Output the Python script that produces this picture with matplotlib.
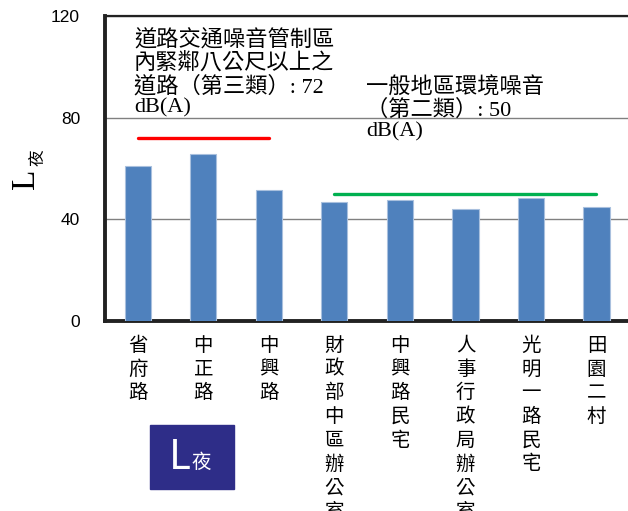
import matplotlib
matplotlib.use('Agg')
import matplotlib.pyplot as plt

plt.rcParams['font.family'] = ['Noto Sans CJK TC', 'DejaVu Sans']

# 測站與夜間噪音值
sites = ['省府路', '中正路', '中興路', '財政部中區辦公室', '中興路民宅',
         '人事行政局辦公室', '光明一路民宅', '田園二村']
l_night = [61.0, 65.6, 51.5, 46.9, 47.6, 44.0, 48.3, 44.8]

# 管制標準
std3_value = 72
std3_range = [0, 2]
std2_value = 50
std2_range = [3, 7]

yticks = [0, 40, 80, 120]

fig = plt.figure(figsize=(6.28, 5.11), dpi=100)
ax = fig.add_axes([105/628, 1 - 321/511, 1 - 105/628 + 0.002, (321 - 16)/511])

x = list(range(len(sites)))
ax.bar(x, l_night, width=0.4, color='#4F81BD', edgecolor='#A9C0DE',
       linewidth=0.8, zorder=3)

ax.plot(std3_range, [std3_value]*2, color='#FF0000', lw=2.4, zorder=4,
        solid_capstyle='round')
ax.plot(std2_range, [std2_value]*2, color='#00B050', lw=2.4, zorder=4,
        solid_capstyle='round')

ax.set_xlim(-0.5, len(sites) - 0.5)
ax.set_ylim(0, 120)
ax.set_yticks(yticks)
ax.set_yticklabels([str(v) for v in yticks], fontsize=12.5,
                   family=['Liberation Sans', 'DejaVu Sans'])
ax.tick_params(axis='y', length=0, pad=18)
ax.grid(axis='y', color='#808080', lw=1, zorder=0)
ax.set_axisbelow(True)

ax.set_xticks(x)
ax.set_xticklabels(['\n'.join(s) for s in sites], fontsize=14,
                   linespacing=1.17, va='top')
ax.tick_params(axis='x', length=0, pad=10)

for side in ['left', 'bottom']:
    ax.spines[side].set_linewidth(2.8)
    ax.spines[side].set_color('#222222')
ax.spines['top'].set_linewidth(1.6)
ax.spines['top'].set_color('#222222')
ax.spines['right'].set_visible(False)

serif_cjk = ['Liberation Serif', 'Noto Sans CJK TC']
fig.text(134/628, 1 - 30/511, '道路交通噪音管制區\n內緊鄰八公尺以上之\n道路（第三類）: 72\ndB(A)',
         fontsize=16, va='top', ha='left', linespacing=1.09, family=serif_cjk)
fig.text(366/628, 1 - 77/511, '一般地區環境噪音\n（第二類）: 50\ndB(A)',
         fontsize=16, va='top', ha='left', linespacing=1.1, family=serif_cjk)

# y 軸標題 L夜
fig.text(26/628, 1 - 179/511, 'L', rotation=90, fontsize=24, ha='center',
         va='center', family='Liberation Serif')
fig.text(38/628, 1 - 158/511, '夜', rotation=90, fontsize=12, ha='center',
         va='center')

# 圖例方塊
fig.patches.append(plt.Rectangle((150/628, 1 - 489/511), 84/628, 64/511,
                                 transform=fig.transFigure, color='#2E2D88',
                                 zorder=5))
fig.text(180/628, 1 - 457/511, 'L', color='white', fontsize=29, ha='center',
         va='center', zorder=6, fontweight='light')
fig.text(201/628, 1 - 462/511, '夜', color='white', fontsize=14, ha='center',
         va='center', zorder=6, fontweight='light')

fig.savefig('out.png', dpi=100)
